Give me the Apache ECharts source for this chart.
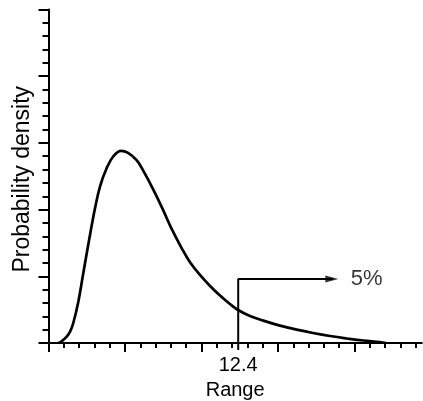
<!DOCTYPE html>
<html>
<head>
<meta charset="utf-8">
<script src="https://cdn.jsdelivr.net/npm/echarts@6/dist/echarts.min.js"></script>
<style>
html,body{margin:0;padding:0;background:#fff;}
#chart{width:423px;height:401px;}
</style>
</head>
<body>
<div id="chart"></div>
<script>
// Density curve: [range, probability density]
const curveX = [0.65,0.88,1.19,1.41,1.62,1.95,2.24,2.65,3.04,3.37,3.80,4.24,4.74,5.20,5.76,6.20,6.85,7.48,8.01,8.71,9.25,9.90,10.56,11.21,11.86,12.39,13.17,14.04,15.13,16.22,17.29,18.40,19.51,20.58,21.67,22.06];
const curveY = [0,0.03,0.094,0.17,0.30,0.62,1.0,1.54,2.02,2.35,2.62,2.80,2.88,2.85,2.74,2.58,2.30,2.0,1.73,1.42,1.21,1.02,0.855,0.712,0.585,0.495,0.405,0.335,0.26,0.20,0.15,0.105,0.068,0.037,0.015,0];
// Critical value marker and arrow
const critX = [12.4, 12.4, 18.6];
const critY = [-0.105, 0.96, 0.96];
const arrowHead = [18.52, 0.96];
const arrowLabelPos = [19.75, 0.96];
const arrowLabel = '5%';
const xTickLabels = [12.4];
const xMajorTicks = [0, 5, 10, 15, 20];
const xMinorTicks = [1,2,3,4,6,7,8,9,11,12,13,14,16,17,18,19,21,22,23,24];
const xName = 'Range';
const yName = 'Probability density';

const font = "'Liberation Sans', Arial, sans-serif";
const chart = echarts.init(document.getElementById('chart'), null, {renderer:'canvas'});
const baseX = {
  type: 'value', min: 0, max: 24.4, position: 'bottom', offset: 0,
  splitLine: {show: false}, minorSplitLine: {show: false}, minorTick: {show: false}
};
chart.setOption({
  animation: false,
  backgroundColor: '#fff',
  grid: {left: 48.5, top: 9.5, width: 373.3, height: 333.5, containLabel: false, outerBoundsMode: 'none'},
  xAxis: [
    Object.assign({}, baseX, {
      axisLine: {show: true, onZero: false, lineStyle: {color: '#000', width: 2}},
      axisTick: {show: true, customValues: xMajorTicks, length: 9, lineStyle: {color: '#000', width: 2}},
      axisLabel: {show: true, customValues: xTickLabels, margin: 12, color: '#000', fontSize: 20, fontFamily: font,
        formatter: v => String(v)},
      name: xName, nameLocation: 'middle', nameGap: 37,
      nameTextStyle: {color: '#000', fontSize: 20, fontFamily: font, padding: [0, 0, 0, 0]}
    }),
    Object.assign({}, baseX, {
      axisLine: {show: false, onZero: false},
      axisTick: {show: true, customValues: xMinorTicks, length: 5, lineStyle: {color: '#000', width: 2}},
      axisLabel: {show: false}
    })
  ],
  yAxis: {
    type: 'value', min: 0, max: 5, interval: 1,
    axisLine: {show: true, lineStyle: {color: '#000', width: 2}},
    axisTick: {show: true, length: 10, lineStyle: {color: '#000', width: 2}},
    minorTick: {show: true, splitNumber: 5, length: 6, lineStyle: {color: '#000', width: 2}},
    splitLine: {show: false}, minorSplitLine: {show: false},
    axisLabel: {show: false},
    name: yName, nameLocation: 'middle', nameGap: 14,
    nameTextStyle: {color: '#000', fontSize: 23, fontFamily: font, padding: [0, 6, 0, 0]}
  },
  series: [
    {
      type: 'line', data: curveX.map((x, i) => [x, curveY[i]]),
      smooth: 0.4, showSymbol: false, symbol: 'none',
      lineStyle: {color: '#000', width: 2.7}, clip: false, silent: true
    },
    {
      type: 'line', data: critX.map((x, i) => [x, critY[i]]),
      smooth: false, showSymbol: false, symbol: 'none',
      lineStyle: {color: '#000', width: 2}, clip: false, silent: true
    },
    {
      type: 'scatter', data: [arrowHead], symbol: 'triangle', symbolRotate: -90,
      symbolSize: [7, 13], itemStyle: {color: '#000'}, silent: true
    },
    {
      type: 'scatter', data: [arrowLabelPos], symbolSize: 0, silent: true,
      label: {show: true, position: 'right', distance: 0, formatter: arrowLabel,
        color: '#000', fontSize: 22, fontFamily: font}
    }
  ]
});
</script>
</body>
</html>
